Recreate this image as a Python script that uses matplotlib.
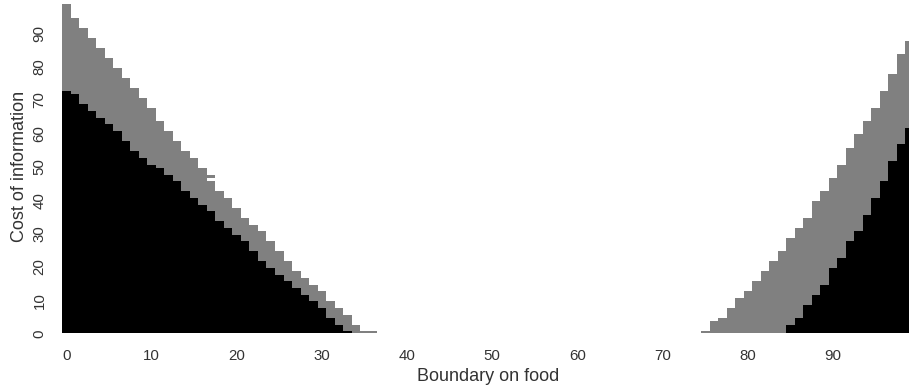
import numpy as np
import matplotlib
matplotlib.use("Agg")
import matplotlib.pyplot as plt
from matplotlib.colors import ListedColormap

# ---- data ----
n_food = 100          # boundary on food: columns 0..99
n_cost = 100          # cost of information: rows 0..99

# height (number of cells from cost=0) of the grey region (value >= 1) per food column
grey_height = ([99, 95, 92, 89, 86, 83, 80, 77, 74, 71, 68, 64, 61, 58, 55, 53, 50, 48,
                43, 41, 38, 35, 33, 31, 28, 25, 22, 19, 17, 15, 13, 10, 8, 6, 3, 1, 1]
               + [0] * 38
               + [1, 4, 5, 8, 11, 13, 16, 19, 22, 25, 29, 32, 35, 40, 43, 47, 51, 56,
                  60, 64, 68, 73, 78, 84, 88])
# height of the black region (value 2) per food column
black_height = ([73, 72, 69, 67, 65, 63, 61, 58, 55, 53, 51, 50, 48, 46, 43, 41, 39, 37,
                 34, 32, 30, 28, 25, 22, 20, 18, 16, 14, 12, 10, 8, 5, 3, 1]
                + [0] * 51
                + [3, 5, 9, 12, 15, 20, 23, 28, 31, 36, 41, 46, 52, 57, 62])
# isolated empty cells (food, cost)
holes = [(17, 46)]

x_ticks = list(range(0, 100, 10))
y_ticks = list(range(0, 100, 10))
x_label = "Boundary on food"
y_label = "Cost of information"

# ---- build grid ----
Z = np.zeros((n_cost, n_food))
for c in range(n_food):
    Z[:grey_height[c], c] = 1
    Z[:black_height[c], c] = 2
for (c, r) in holes:
    Z[r, c] = 0

plt.rcParams['font.family'] = ['Liberation Sans', 'DejaVu Sans']
text_color = '#333333'

W, H = 909, 389
fig = plt.figure(figsize=(W / 100, H / 100), dpi=100)
left_px, right_px = 62.45, 62.45 + 8.51 * 100
bottom_px, top_px = 333.5, 0.0
ax = fig.add_axes([left_px / W, (H - bottom_px) / H,
                   (right_px - left_px) / W, (bottom_px - top_px) / H])

cmap = ListedColormap(['#ffffff', '#808080', '#000000'])
ax.imshow(Z, origin='lower', cmap=cmap, vmin=0, vmax=2, aspect='auto',
          interpolation='nearest')
ax.set_xlim(-0.5, 99.5)
ax.set_ylim(0, 100)

for s in ax.spines.values():
    s.set_visible(False)

ax.set_xticks(x_ticks)
ax.set_xticklabels([str(t) for t in x_ticks])
ax.set_yticks(y_ticks)
ax.set_yticklabels([str(t) for t in y_ticks], rotation=90, va='center')
ax.tick_params(axis='both', length=0, pad=11.5, labelsize=10.8, colors=text_color)

ax.set_xlabel(x_label, fontsize=13, color=text_color, labelpad=3.5)
ax.set_ylabel(y_label, fontsize=13, color=text_color, labelpad=3)

fig.savefig("out.png", dpi=100)
